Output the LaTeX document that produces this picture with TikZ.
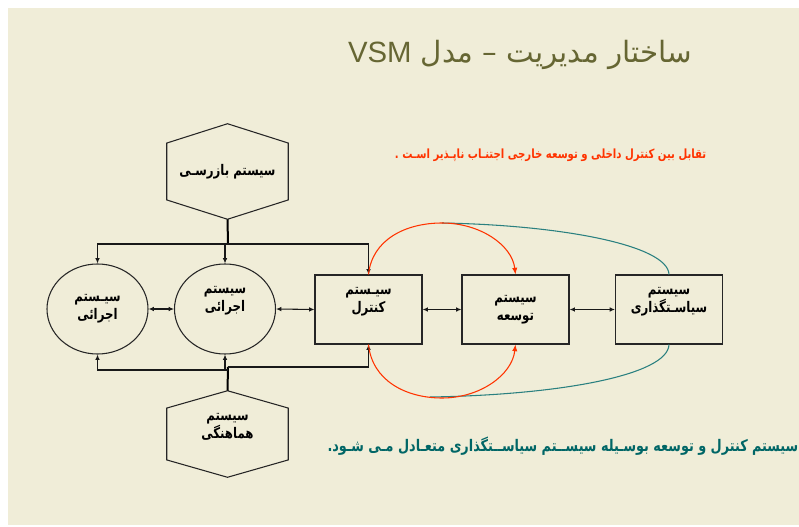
\documentclass[tikz,border=0pt]{standalone}
\usepackage{fontspec}
\usetikzlibrary{arrows.meta,shapes.geometric,calc}
\TeXXeTstate=1
\newfontfamily\farsi[Script=Arabic]{DejaVu Sans}
\newfontfamily\farsinarrow[Script=Arabic, FakeStretch=0.8]{DejaVu Sans}
\newfontfamily\latinsans{Liberation Sans}
% one right-to-left line of Persian text
\newcommand\RLtxt[1]{\beginR #1\endR}
% outline of a hexagon with pointed top and bottom around a node
\newcommand\hexoutline[2]{%
  \draw[shapeline] (#1.north) -- ([yshift=-#2]#1.north east) -- ([yshift=#2]#1.south east)
    -- (#1.south) -- ([yshift=#2]#1.south west) -- ([yshift=-#2]#1.north west) -- cycle;}

\definecolor{paper}{HTML}{F0EDD8}
\definecolor{olive}{HTML}{666633}
\definecolor{alert}{HTML}{FF3300}
\definecolor{tealline}{HTML}{2A8080}
\definecolor{tealtext}{HTML}{006666}

\begin{document}
\begin{tikzpicture}[x=0.75pt,y=-0.75pt,
  shapeline/.style={draw=black!85, line width=0.8pt},
  hexnode/.style={minimum width=90.75pt, inner sep=0pt},
  oval/.style={ellipse, shapeline, minimum width=75.75pt, minimum height=67.5pt, inner sep=0pt},
  sysbox/.style={rectangle, shapeline, minimum width=80.25pt, minimum height=51.75pt, inner sep=0pt},
  lbl/.style={align=center, inner sep=0pt, font=\farsinarrow\bfseries\fontsize{11}{13.5}\selectfont},
  wire/.style={draw=black!90, line width=0.8pt},
  trunk/.style={draw=black, line width=1.5pt},
  arr/.style={wire, -{Latex[length=4pt,width=3.5pt]}},
  darr/.style={wire, {Latex[length=4pt,width=3.5pt]}-{Latex[length=4pt,width=3.5pt]}},
  redcurve/.style={draw=alert, line width=0.8pt},
  tealcurve/.style={draw=tealline, line width=0.8pt}]
\useasboundingbox (0,0) rectangle (799,527);
\fill[paper] (8,8) rectangle (799,525);

% heading
\node[text=olive, font=\farsi\fontsize{22}{26}\selectfont] (head) at (520,55)
  {\RLtxt{ساختار مدیریت – مدل \beginL{\latinsans VSM}\endL}};

% remarks
\node[anchor=east, text=alert, font=\farsinarrow\bfseries\fontsize{9.5}{12}\selectfont] (note1) at (711,155)
  {\RLtxt{تقابل بین کنترل داخلی و توسعه خارجی اجتنـاب ناپـذیر اسـت .}};
\node[anchor=east, text=tealtext, font=\farsinarrow\bfseries\fontsize{12}{14}\selectfont] (note2) at (803,446)
  {\RLtxt{سیستم کنترل و توسعه بوسـیله سیســتم سیاســتگذاری متعـادل مـی شـود.}};

% hexagons
\node[hexnode, minimum height=71.25pt] (insp) at (227.5,171.5) {};
\hexoutline{insp}{14.5pt}
\node[lbl] at (insp) {\RLtxt{سیستم بازرسـی}};
\node[hexnode, minimum height=64.5pt] (harm) at (227.5,434) {};
\hexoutline{harm}{13pt}
\node[lbl] at ([yshift=5.5pt]harm) {\RLtxt{سیستم}\\\RLtxt{هماهنگی}};

% operational units
\node[oval] (exe1) at (97.5,309) {};
\node[lbl] at (exe1) {\RLtxt{سیـستم}\\\RLtxt{اجرائی}};
\node[oval] (exe2) at (225,309) {};
\node[lbl] at ([yshift=6pt]exe2) {\RLtxt{سیستم}\\\RLtxt{اجرائی}};

% management boxes
\node[sysbox] (ctrl) at (368.5,309.5) {};
\node[lbl] at ([yshift=5.5pt]ctrl) {\RLtxt{سیـستم}\\\RLtxt{کنترل}};
\node[sysbox] (dev) at (515.5,309.5) {};
\node[lbl] at (dev) {\RLtxt{سیستم}\\\RLtxt{توسعه}};
\node[sysbox] (pol) at (669,309.5) {};
\node[lbl] at ([yshift=5.5pt]pol) {\RLtxt{سیستم}\\\RLtxt{سیاسـتگذاری}};

% upper distribution bus
\coordinate (topbus) at (228,244);
\draw[trunk] (insp.south) -- (topbus);
\draw[arr] (topbus) -| (exe1.north);
\draw[arr] (topbus) -| (ctrl.north);
\draw[arr] (exe2.north |- topbus) -- (exe2.north);

% lower distribution bus
\coordinate (lowbusR) at (228,367);
\coordinate (lowbusL) at (228,370);
\draw[trunk] (harm.north) -- (lowbusR);
\draw[arr] (lowbusR) -| (ctrl.south);
\draw[arr] (lowbusL) -| (exe1.south);
\draw[arr] (exe2.south |- lowbusL) -- (exe2.south);

% links along the row
\draw[darr] (exe1.east) -- (exe2.west);
\draw[darr] (exe2.east) -- (ctrl.west);
\draw[darr] (ctrl.east) -- (dev.west);
\draw[darr] (dev.east) -- (pol.west);

% control and development loops
\coordinate (rtop) at (442,223);
\coordinate (rbot) at (442,398);
\coordinate (tbot) at (430,397);
\draw[tealcurve] (pol.north) .. controls (668,245) and (560,225) .. (rtop);
\draw[tealcurve] (pol.south) .. controls (668,375) and (560,395) .. (tbot);
\draw[redcurve] (ctrl.north) .. controls (372,240) and (405,223) .. (rtop);
\draw[redcurve, -{Latex[length=5pt,width=4pt]}] (rtop) .. controls (480,223) and (512,245) .. (dev.north);
\draw[redcurve] (ctrl.south) .. controls (372,380) and (405,398) .. (rbot);
\draw[redcurve, -{Latex[length=5pt,width=4pt]}] (rbot) .. controls (480,398) and (512,375) .. (dev.south);
\end{tikzpicture}
\end{document}
